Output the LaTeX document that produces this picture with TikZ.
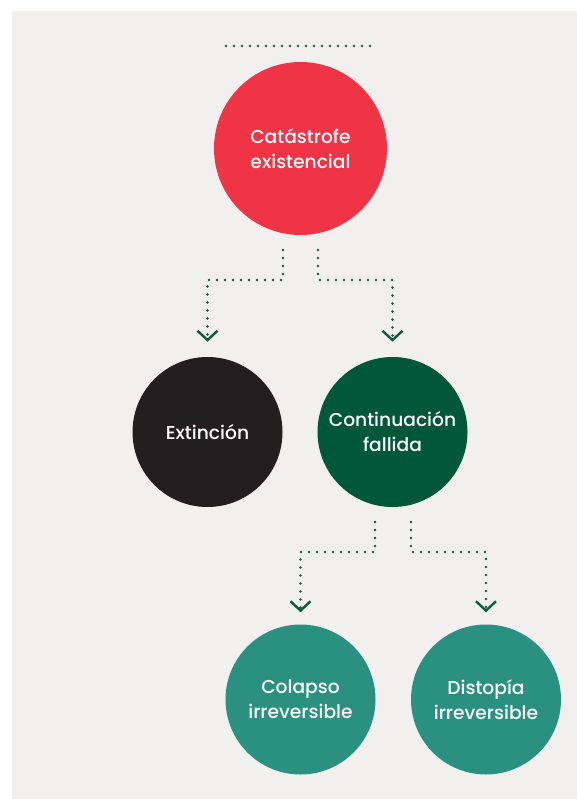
\documentclass[tikz,border=0pt]{standalone}
\usepackage{fontspec}
\setmainfont{Poppins Medium}
\usetikzlibrary{arrows.meta}
\definecolor{bgray}{HTML}{F2F0EE}
\definecolor{cred}{HTML}{EF3446}
\definecolor{cblack}{HTML}{231F20}
\definecolor{cgreen}{HTML}{00573A}
\definecolor{cteal}{HTML}{2A9181}
\definecolor{dotc}{HTML}{0B5B3F}
\begin{document}
\begin{tikzpicture}[x=0.75pt,y=-0.75pt,
  bubble/.style={circle, inner sep=0pt, text=white, align=center,
    font=\fontsize{14}{18.75}\selectfont},
  conn/.style={draw=dotc, line width=1.9pt, line cap=round,
    dash pattern=on 0pt off 6pt,
    -{Straight Barb[length=7pt,width=15pt,line width=1.8pt]}},
  dotline/.style={draw=dotc, line width=1.9pt, line cap=round,
    dash pattern=on 0pt off 6pt}
]
\useasboundingbox (0,0) rectangle (577,799);
\fill[white] (0,0) rectangle (577,799);
\fill[bgray] (12,11) rectangle (577,799);

\coordinate (topL) at (226,46);
\coordinate (topR) at (376,46);
\draw[dotline] (topL) -- (topR);

\node[bubble, fill=cred, minimum size=129.75pt] (cat) at (300.5,148.5) {Catástrofe\\existencial};
\node[bubble, fill=cblack, minimum size=112.5pt] (ext) at (207.5,432) {Extinción};
\node[bubble, fill=cgreen, minimum size=112.5pt] (cont) at (392.5,432) {Continuación\\fallida};
\node[bubble, fill=cteal, minimum size=112.5pt] (col) at (300.5,699.5) {Colapso\\irreversible};
\node[bubble, fill=cteal, minimum size=112.5pt] (dis) at (486,699.5) {Distopía\\irreversible};

\coordinate (a1) at (283,250);
\coordinate (a2) at (318,250);
\coordinate (b1) at (375,522);
\coordinate (b2) at (411,522);

\draw[conn, shorten >=11.25pt] (a1) -- ++(0,30) -| (ext.north);
\draw[conn, shorten >=11.25pt] (a2) -- ++(0,30) -| (cont.north);
\draw[conn, shorten >=9pt] (b1) -- ++(0,30) -| (col.north);
\draw[conn, shorten >=9pt] (b2) -- ++(0,30) -| (dis.north);
\end{tikzpicture}
\end{document}
